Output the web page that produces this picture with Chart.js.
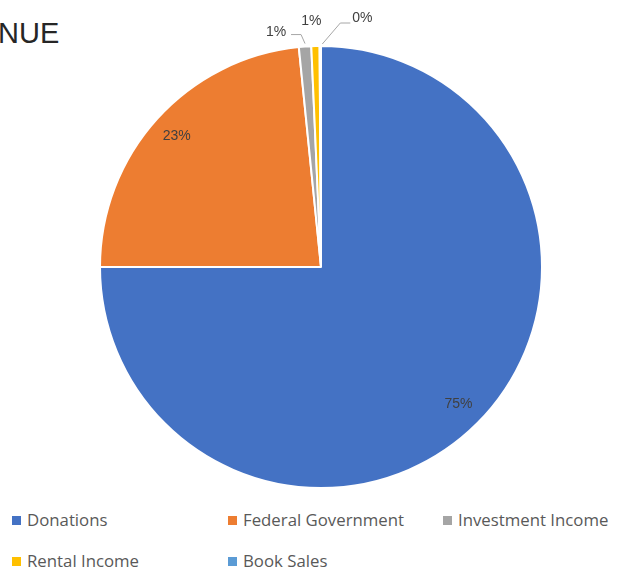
<!DOCTYPE html>
<html>
<head>
<meta charset="utf-8">
<script src="https://cdn.jsdelivr.net/npm/chart.js@4"></script>
<style>
  html, body { margin: 0; padding: 0; background: #fff; }
  body { width: 621px; height: 572px; position: relative; overflow: hidden; font-family: "Liberation Sans", Arial, sans-serif; }
  #title { position: absolute; left: -2px; top: 17px; font-size: 29px; color: #262626; }
  #wrap { position: absolute; left: 0; top: 0; width: 621px; height: 502px; }
  #legend { position: absolute; left: 0; top: 508px; width: 621px; font-family: "Open Sans", sans-serif; font-size: 16.8px; color: #595959; }
  .item { position: absolute; white-space: nowrap; }
  .item span.box { display: inline-block; width: 9px; height: 9px; margin-right: 6px; vertical-align: 1px; }
</style>
</head>
<body>
<div id="title">NUE</div>
<div id="wrap"><canvas id="pie"></canvas></div>
<div id="legend"></div>
<script>
/* Revenue pie */
const labels = ['Donations', 'Federal Government', 'Investment Income', 'Rental Income', 'Book Sales'];
const values = [75.0, 23.4, 0.9, 0.6, 0.1];
const colors = ['#4472C4', '#ED7D31', '#A5A5A5', '#FFC000', '#5B9BD5'];

// legend columns (x) and rows (y) like the original sheet export
const legendCols = [12, 228, 443];
const legendRows = [0, 41];

const lg = document.getElementById('legend');
lg.innerHTML = labels.map((l, i) => {
    const x = legendCols[i % 3], y = legendRows[Math.floor(i / 3)];
    return `<div class="item" style="left:${x}px;top:${y}px"><span class="box" style="background:${colors[i]}"></span>${l}</div>`;
}).join('');

// outside label offsets for the thin slices, relative to the slice edge
const outside = {
    2: { text: [-29, -14], line: [[0, -3], [-4, -12], [-14, -12]] },
    3: { text: [-4, -25], line: null },
    4: { text: [42, -28], line: [[2, -2], [20, -23], [30, -23]] }
};

const pctLabels = {
    id: 'pctLabels',
    afterDatasetsDraw(chart) {
        const ctx = chart.ctx;
        const total = values.reduce((a, b) => a + b, 0);
        const meta = chart.getDatasetMeta(0);
        ctx.save();
        ctx.font = '14px "Liberation Sans", Arial, sans-serif';
        ctx.fillStyle = '#404040';
        ctx.textAlign = 'center';
        ctx.textBaseline = 'middle';
        meta.data.forEach((arc, i) => {
            const p = arc.getProps(['x', 'y', 'startAngle', 'endAngle', 'outerRadius'], true);
            const mid = (p.startAngle + p.endAngle) / 2;
            const txt = Math.round(values[i] / total * 100) + '%';
            if (!outside[i]) {
                const r = p.outerRadius * 0.88;
                ctx.fillText(txt, p.x + Math.cos(mid) * r, p.y + Math.sin(mid) * r);
                return;
            }
            const ex = p.x + Math.cos(mid) * p.outerRadius;
            const ey = p.y + Math.sin(mid) * p.outerRadius;
            const o = outside[i];
            if (o.line) {
                ctx.strokeStyle = '#A6A6A6';
                ctx.lineWidth = 1;
                ctx.beginPath();
                o.line.forEach((pt, k) => k ? ctx.lineTo(ex + pt[0], ey + pt[1]) : ctx.moveTo(ex + pt[0], ey + pt[1]));
                ctx.stroke();
            }
            ctx.fillText(txt, ex + o.text[0], ey + o.text[1]);
        });
        ctx.restore();
    }
};

new Chart(document.getElementById('pie'), {
    type: 'pie',
    data: {
        labels: labels,
        datasets: [{
            data: values,
            backgroundColor: colors,
            borderColor: '#fff',
            borderWidth: 2
        }]
    },
    options: {
        responsive: true,
        maintainAspectRatio: false,
        animation: false,
        layout: { padding: { top: 44, bottom: 12, left: 99, right: 78 } },
        plugins: {
            legend: { display: false },
            tooltip: { enabled: false }
        }
    },
    plugins: [pctLabels]
});
</script>
</body>
</html>
